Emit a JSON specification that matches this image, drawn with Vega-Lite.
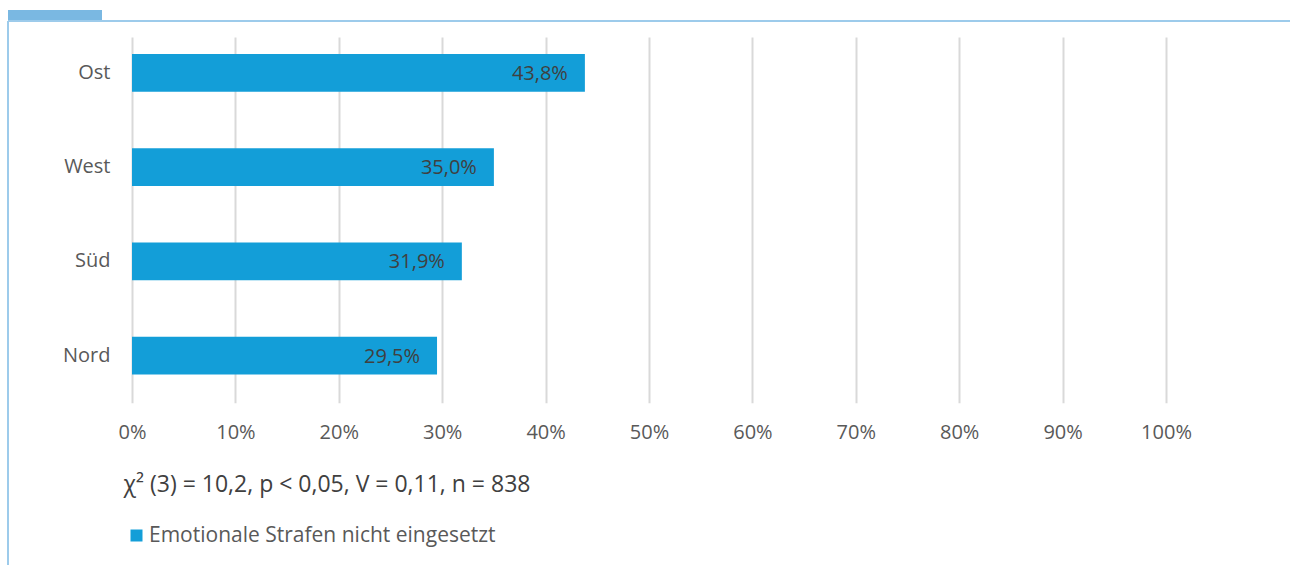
{
  "$schema": "https://vega.github.io/schema/vega-lite/v6.json",
  "padding": {"left": 7, "top": 9, "right": 0, "bottom": 0},
  "background": "#FFFFFF",
  "spacing": 0,
  "bounds": "flush",
  "config": {
    "font": "Open Sans",
    "locale": {"number": {"decimal": ",", "thousands": ".", "grouping": [3], "currency": ["", " €"]}}
  },
  "datasets": {
    "werte": [
      {"Region": "Ost", "Anteil": 0.438, "Serie": "Emotionale Strafen nicht eingesetzt"},
      {"Region": "West", "Anteil": 0.350, "Serie": "Emotionale Strafen nicht eingesetzt"},
      {"Region": "Süd", "Anteil": 0.319, "Serie": "Emotionale Strafen nicht eingesetzt"},
      {"Region": "Nord", "Anteil": 0.295, "Serie": "Emotionale Strafen nicht eingesetzt"}
    ]
  },
  "vconcat": [
    {
      "width": 94,
      "height": 11,
      "view": {"fill": "#7AB8E2", "stroke": null},
      "data": {"values": [{"a": 1}]},
      "mark": {"type": "text", "text": ""},
      "encoding": {}
    },
    {
      "width": 1282,
      "height": 544,
      "view": {"stroke": "#9DCBEB", "strokeWidth": 2, "strokeDash": [1282, 1826, 544, 0], "fill": "#FFFFFF"},
      "data": {"name": "werte"},
      "encoding": {
        "y": {
          "field": "Region",
          "type": "nominal",
          "sort": ["Ost", "West", "Süd", "Nord"],
          "scale": {"range": [16, 381.7], "paddingInner": 0.6, "paddingOuter": 0.24, "align": 0.376},
          "axis": {
            "title": null,
            "orient": "left",
            "offset": -124,
            "domain": false,
            "ticks": false,
            "tickSize": 0,
            "grid": false,
            "labelPadding": 22,
            "labelFontSize": 20,
            "labelColor": "#595959",
            "labelFont": "Open Sans"
          }
        },
        "x": {
          "field": "Anteil",
          "type": "quantitative",
          "scale": {"domain": [0, 1], "range": [124, 1158], "nice": false},
          "axis": {
            "orient": "top",
            "offset": -381.7,
            "values": [0, 0.1, 0.2, 0.3, 0.4, 0.5, 0.6, 0.7, 0.8, 0.9, 1],
            "format": ".0%",
            "domain": false,
            "ticks": false,
            "tickSize": 0,
            "grid": true,
            "gridColor": "#D9D9D9",
            "gridWidth": 2,
            "labelPadding": -30,
            "labelBaseline": "middle",
            "labelFontSize": 20,
            "labelColor": "#595959",
            "labelFlush": false,
            "labelOverlap": false,
            "title": "χ² (3) = 10,2, p < 0,05, V = 0,11, n = 838",
            "titleX": 115,
            "titleY": 89,
            "titleAngle": 0,
            "titleAlign": "left",
            "titleAnchor": "start",
            "titleBaseline": "alphabetic",
            "titleFontSize": 23,
            "titleFontWeight": "normal",
            "titleColor": "#404040",
            "titleFont": "Open Sans"
          }
        }
      },
      "layer": [
        {
          "mark": {"type": "bar", "clip": false},
          "encoding": {
            "color": {
              "field": "Serie",
              "type": "nominal",
              "scale": {"range": ["#139ED8"]},
              "legend": {
                "orient": "none",
                "legendX": 118,
                "legendY": 515,
                "title": null,
                "padding": 0,
                "symbolType": "square",
                "symbolSize": 144,
                "symbolStrokeWidth": 0,
                "labelOffset": 2,
                "labelFontSize": 21,
                "labelColor": "#595959",
                "labelFont": "Open Sans",
                "labelLimit": 600
              }
            }
          }
        },
        {
          "mark": {"type": "text", "align": "right", "baseline": "middle", "dx": -17, "dy": 1, "fontSize": 20, "color": "#404040", "font": "Open Sans"},
          "encoding": {
            "text": {"field": "Anteil", "type": "quantitative", "format": ".1%"}
          }
        }
      ]
    }
  ]
}
